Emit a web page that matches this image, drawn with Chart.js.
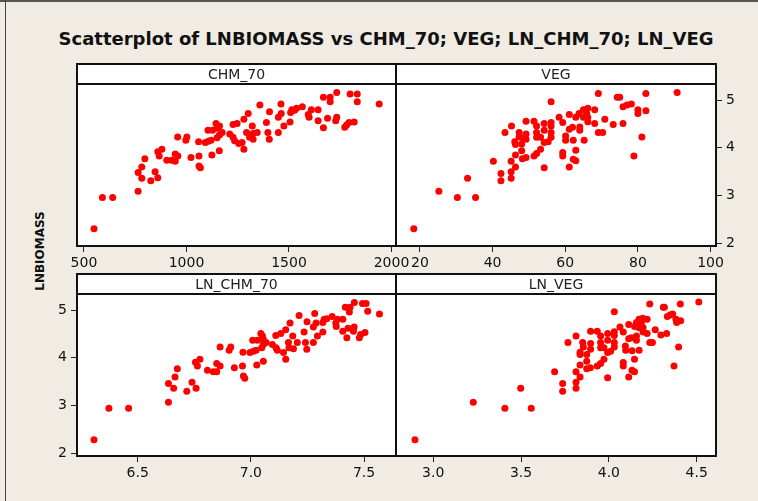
<!DOCTYPE html>
<html>
<head>
<meta charset="utf-8">
<script src="https://cdn.jsdelivr.net/npm/chart.js@4.4.1/dist/chart.umd.min.js"></script>
<style>
  html, body { margin: 0; padding: 0; background: #f0ece3; }
  #wrap { position: relative; width: 758px; height: 501px; background: #f0ece3; overflow: hidden; }
  #wrap canvas { position: absolute; left: 0; top: 0; }
  #topline { position: absolute; left: 0; top: 0; width: 758px; height: 2px; background: #555; }
  #leftline { position: absolute; left: 5px; top: 0; width: 1px; height: 501px; background: #444; }
  #title { position: absolute; left: 386px; top: 28px; transform: translateX(-50%); white-space: nowrap;
           font: bold 18px "DejaVu Sans", sans-serif; line-height: 22px; color: #111; }
  #ylabel { position: absolute; left: 40px; top: 251px; transform: translate(-50%, -50%) rotate(-90deg);
            white-space: nowrap; font: bold 12px "DejaVu Sans", sans-serif; color: #111; }
</style>
</head>
<body>
<div id="wrap">
  <div id="topline"></div>
  <div id="leftline"></div>
  <div id="title">Scatterplot of LNBIOMASS vs CHM_70; VEG; LN_CHM_70; LN_VEG</div>
  <div id="ylabel">LNBIOMASS</div>
  <canvas id="c1" width="758" height="501"></canvas>
  <canvas id="c2" width="758" height="501"></canvas>
  <canvas id="c3" width="758" height="501"></canvas>
  <canvas id="c4" width="758" height="501"></canvas>
</div>
<script>
// values
const chmX = [549, 590, 640, 764, 764, 782, 797, 782, 826, 847, 860, 860, 867, 880, 904, 929, 945, 945, 958, 957,
  997, 1002, 1022, 1059, 1061, 1061, 1068, 1092, 1107, 1120, 1105, 1124, 1127, 1144, 1149, 1161, 1149, 1161, 1174, 1160,
  1211, 1227, 1235, 1227, 1247, 1255, 1271, 1280, 1280, 1293, 1301, 1308, 1321, 1325, 1325, 1345, 1358, 1390, 1397, 1404,
  1405, 1448, 1448, 1462, 1461, 1475, 1505, 1508, 1514, 1527, 1537, 1565, 1594, 1598, 1609, 1642, 1642, 1668, 1668, 1688,
  1701, 1701, 1733, 1728, 1733, 1772, 1781, 1793, 1818, 1798, 1833, 1833, 1940];
const chmY = [2.30, 2.96, 2.96, 3.09, 3.48, 3.60, 3.77, 3.36, 3.31, 3.50, 3.37, 3.92, 3.83, 3.97, 3.74, 3.74, 3.72, 3.87, 3.83, 4.23,
  4.16, 4.23, 3.80, 4.13, 3.83, 3.62, 3.58, 4.11, 4.14, 4.16, 4.37, 3.85, 4.37, 4.51, 4.41, 4.46, 4.21, 4.27, 4.32, 3.94,
  4.29, 4.22, 4.15, 4.49, 4.51, 4.09, 4.11, 3.97, 4.60, 4.32, 4.72, 4.22, 4.46, 4.18, 4.30, 4.32, 4.90, 4.53, 4.32, 4.18,
  4.76, 4.32, 4.64, 4.72, 4.92, 4.46, 4.54, 4.74, 4.80, 4.79, 4.83, 4.86, 4.70, 4.64, 4.80, 4.80, 4.57, 4.42, 5.06, 4.62,
  5.06, 4.97, 5.16, 4.57, 4.64, 4.43, 4.48, 4.53, 4.54, 5.13, 5.13, 4.97, 4.92];

const vegX = [18.3, 25.2, 30.3, 35.3, 33.1, 40.2, 42.3, 42.3, 45.1, 45.1, 45.1, 46.3, 46.3, 43.4, 45.2, 46.1, 46.3, 47.3, 47.3, 48.0,
  48.0, 48.2, 49.2, 49.2, 49.2, 49.2, 48.4, 51.4, 52.1, 52.1, 52.1, 53.2, 51.4, 52.1, 53.2, 54.2, 54.2, 54.2, 54.2, 55.3,
  56.1, 56.1, 56.1, 56.1, 56.1, 58.3, 59.3, 59.3, 59.3, 60.1, 60.1, 61.1, 61.1, 61.1, 62.0, 62.2, 62.2, 62.9, 62.9, 62.9,
  63.8, 64.0, 64.0, 65.0, 65.0, 65.2, 65.9, 66.2, 66.2, 66.2, 68.1, 68.1, 69.1, 69.1, 70.3, 70.9, 73.2, 74.3, 75.0, 75.9,
  75.9, 77.0, 78.2, 78.9, 80.0, 80.0, 81.1, 82.2, 82.2, 90.8];
const vegY = [2.30, 3.09, 2.96, 2.96, 3.36, 3.72, 3.46, 3.31, 3.36, 3.50, 3.72, 3.60, 3.85, 4.32, 4.46, 4.13, 4.07, 4.32, 4.23, 4.08,
  3.94, 3.77, 3.80, 4.29, 4.18, 4.56, 4.20, 4.56, 4.46, 4.32, 4.22, 4.22, 3.83, 3.88, 3.97, 4.51, 4.37, 4.11, 3.58, 4.13,
  4.53, 4.46, 4.32, 4.22, 4.97, 4.64, 4.53, 3.90, 3.83, 4.25, 4.16, 4.70, 4.39, 3.60, 4.43, 4.16, 3.76, 3.73, 3.95, 4.64,
  4.72, 4.44, 4.37, 4.80, 4.64, 4.16, 4.72, 4.83, 4.55, 4.64, 4.80, 4.51, 5.14, 4.32, 4.32, 4.60, 4.49, 5.06, 5.06, 4.86,
  4.51, 4.90, 4.92, 3.83, 4.80, 4.72, 4.23, 5.14, 4.78, 5.16];

const lnChmX = [6.307, 6.373, 6.460, 6.636, 6.636, 6.659, 6.665, 6.675, 6.717, 6.740, 6.758, 6.755, 6.764, 6.775, 6.808, 6.834,
  6.849, 6.849, 6.864, 6.864, 6.904, 6.911, 6.927, 6.963, 6.965, 6.967, 6.973, 6.996, 7.011, 7.023, 7.008, 7.026, 7.029,
  7.044, 7.051, 7.055, 7.048, 7.055, 7.067, 7.055, 7.095, 7.111, 7.117, 7.110, 7.132, 7.144, 7.154, 7.154, 7.166, 7.173,
  7.185, 7.168, 7.188, 7.205, 7.213, 7.235, 7.241, 7.247, 7.248, 7.276, 7.276, 7.282, 7.288, 7.294, 7.318, 7.318, 7.324,
  7.335, 7.359, 7.375, 7.377, 7.383, 7.406, 7.406, 7.417, 7.424, 7.429, 7.435, 7.438, 7.457, 7.453, 7.456, 7.479, 7.485,
  7.493, 7.504, 7.509, 7.516, 7.568];
const lnChmY = [2.28, 2.94, 2.94, 3.07, 3.46, 3.36, 3.60, 3.77, 3.30, 3.49, 3.36, 3.91, 3.83, 3.97, 3.74, 3.71,
  3.71, 3.88, 3.83, 4.23, 4.16, 4.23, 3.79, 3.83, 4.12, 3.62, 3.57, 4.11, 4.14, 4.16, 4.37, 3.85, 4.37,
  4.51, 4.46, 4.39, 4.21, 4.28, 4.32, 3.93, 4.28, 4.21, 4.16, 4.47, 4.51, 4.11, 3.97, 4.59, 4.32, 4.73,
  4.46, 4.21, 4.19, 4.32, 4.89, 4.54, 4.32, 4.18, 4.76, 4.32, 4.65, 4.93, 4.73, 4.46, 4.54, 4.74, 4.81,
  4.82, 4.87, 4.73, 4.66, 4.81, 4.81, 4.56, 5.06, 4.42, 4.62, 4.96, 5.06, 5.16, 4.56, 4.65, 4.42, 4.49,
  5.14, 4.53, 5.14, 4.98, 4.92];

const lnVegX = [2.896, 3.228, 3.408, 3.498, 3.558, 3.691, 3.737, 3.737, 3.767, 3.813, 3.813, 3.813, 3.813, 3.836, 3.836, 3.836,
  3.836, 3.851, 3.855, 3.874, 3.874, 3.874, 3.895, 3.896, 3.896, 3.896, 3.934, 3.934, 3.953, 3.953, 3.953, 3.972, 3.953,
  3.972, 3.993, 3.993, 3.993, 3.993, 4.010, 4.031, 4.031, 4.031, 4.031, 4.031, 4.063, 4.082, 4.082, 4.082, 4.094, 4.096,
  4.113, 4.113, 4.113, 4.128, 4.132, 4.132, 4.146, 4.146, 4.146, 4.157, 4.157, 4.157, 4.172, 4.172, 4.172, 4.185, 4.193,
  4.195, 4.195, 4.218, 4.218, 4.233, 4.233, 4.248, 4.264, 4.296, 4.310, 4.316, 4.329, 4.333, 4.348, 4.363, 4.371, 4.382,
  4.386, 4.397, 4.407, 4.409, 4.512];
const lnVegY = [2.28, 3.07, 2.94, 3.36, 2.94, 3.71, 3.46, 3.30, 4.32, 4.46, 3.71, 3.49, 3.36, 3.60, 3.85, 4.12,
  4.07, 4.32, 4.23, 4.07, 3.93, 3.77, 3.79, 4.30, 4.18, 4.56, 4.56, 3.83, 4.46, 4.32, 4.21, 4.21, 3.88,
  3.97, 4.51, 4.37, 4.11, 3.58, 4.14, 4.55, 4.47, 4.32, 4.23, 4.97, 4.65, 4.54, 3.90, 3.83, 4.25, 4.16,
  4.70, 4.40, 3.60, 4.42, 4.15, 3.74, 3.71, 3.97, 4.66, 4.74, 4.46, 4.37, 4.81, 4.63, 4.16, 4.73, 4.83,
  4.54, 4.63, 4.81, 4.51, 5.13, 4.32, 4.32, 4.59, 4.48, 5.06, 5.06, 4.51, 4.87, 4.90, 4.92, 3.83, 4.81,
  4.74, 4.23, 5.13, 4.78, 5.17];

const chmTicks = [500, 1000, 1500, 2000];
const vegTicks = [20, 40, 60, 80, 100];
const lnChmTicks = [6.5, 7.0, 7.5];
const lnVegTicks = [3.0, 3.5, 4.0, 4.5];
const yTicks = [2, 3, 4, 5];

const tickFont = { family: 'DejaVu Sans', size: 14 };

// white plot area, black frame and the header strip above it
const panelBox = {
  id: 'panelBox',
  beforeDraw(chart) {
    const a = chart.chartArea, ctx = chart.ctx;
    ctx.save();
    ctx.fillStyle = '#ffffff';
    ctx.fillRect(a.left, a.top, a.right - a.left, a.bottom - a.top);
    ctx.restore();
  },
  afterDraw(chart, args, opts) {
    const a = chart.chartArea, ctx = chart.ctx;
    const h = 20;
    ctx.save();
    ctx.fillStyle = '#ffffff';
    ctx.fillRect(a.left, a.top - h, a.right - a.left, h);
    ctx.strokeStyle = '#111';
    ctx.lineWidth = 2;
    ctx.strokeRect(a.left, a.top - h, a.right - a.left, h);
    ctx.strokeRect(a.left, a.top, a.right - a.left, a.bottom - a.top);
    ctx.fillStyle = '#222';
    ctx.font = '14px "DejaVu Sans"';
    ctx.textAlign = 'center';
    ctx.textBaseline = 'middle';
    ctx.fillText(opts.text, (a.left + a.right) / 2, a.top - h / 2 + 1);
    ctx.restore();
  }
};

function panel(id, xs, ys, xMin, xMax, xTicks, fmt, yPos, header, pad) {
  const showY = yPos !== null;
  return new Chart(document.getElementById(id), {
    type: 'scatter',
    data: {
      datasets: [{
        data: xs.map((x, i) => ({ x: x, y: ys[i] })),
        backgroundColor: '#ff0000',
        borderWidth: 0,
        pointRadius: 3.5
      }]
    },
    options: {
      responsive: false,
      animation: false,
      devicePixelRatio: 1,
      layout: { padding: pad },
      plugins: {
        legend: { display: false },
        tooltip: { enabled: false },
        panelBox: { text: header }
      },
      scales: {
        x: {
          type: 'linear',
          position: 'bottom',
          min: xMin,
          max: xMax,
          afterBuildTicks: s => { s.ticks = xTicks.map(v => ({ value: v })); },
          afterFit: s => { s.height = 30; },
          grid: { drawOnChartArea: false, drawTicks: true, tickLength: 6, color: '#222', lineWidth: 1 },
          border: { display: false },
          ticks: { font: tickFont, color: '#111', padding: 3, maxRotation: 0, autoSkip: false, callback: fmt }
        },
        y: {
          type: 'linear',
          display: showY,
          position: yPos || 'left',
          min: 1.94,
          max: 5.34,
          afterBuildTicks: s => { s.ticks = yTicks.map(v => ({ value: v })); },
          afterFit: s => { s.width = showY ? 30 : 0; },
          grid: { drawOnChartArea: false, drawTicks: true, tickLength: 6, color: '#222', lineWidth: 1 },
          border: { display: false },
          ticks: { font: tickFont, color: '#111', padding: 4, autoSkip: false, callback: v => String(v) }
        }
      }
    },
    plugins: [panelBox]
  });
}

const plain = v => String(v);
const oneDec = v => v.toFixed(1);

panel('c1', chmX, chmY, 466, 2022, chmTicks, plain, null, 'CHM_70',
  { left: 77, right: 362, top: 84, bottom: 225 });
panel('c2', vegX, vegY, 13.4, 101.5, vegTicks, plain, 'right', 'VEG',
  { left: 396, right: 12, top: 84, bottom: 225 });
panel('c3', lnChmX, lnChmY, 6.232, 7.641, lnChmTicks, oneDec, 'left', 'LN_CHM_70',
  { left: 47, right: 362, top: 294, bottom: 15 });
panel('c4', lnVegX, lnVegY, 2.788, 4.61, lnVegTicks, oneDec, null, 'LN_VEG',
  { left: 396, right: 42, top: 294, bottom: 15 });
</script>
</body>
</html>
